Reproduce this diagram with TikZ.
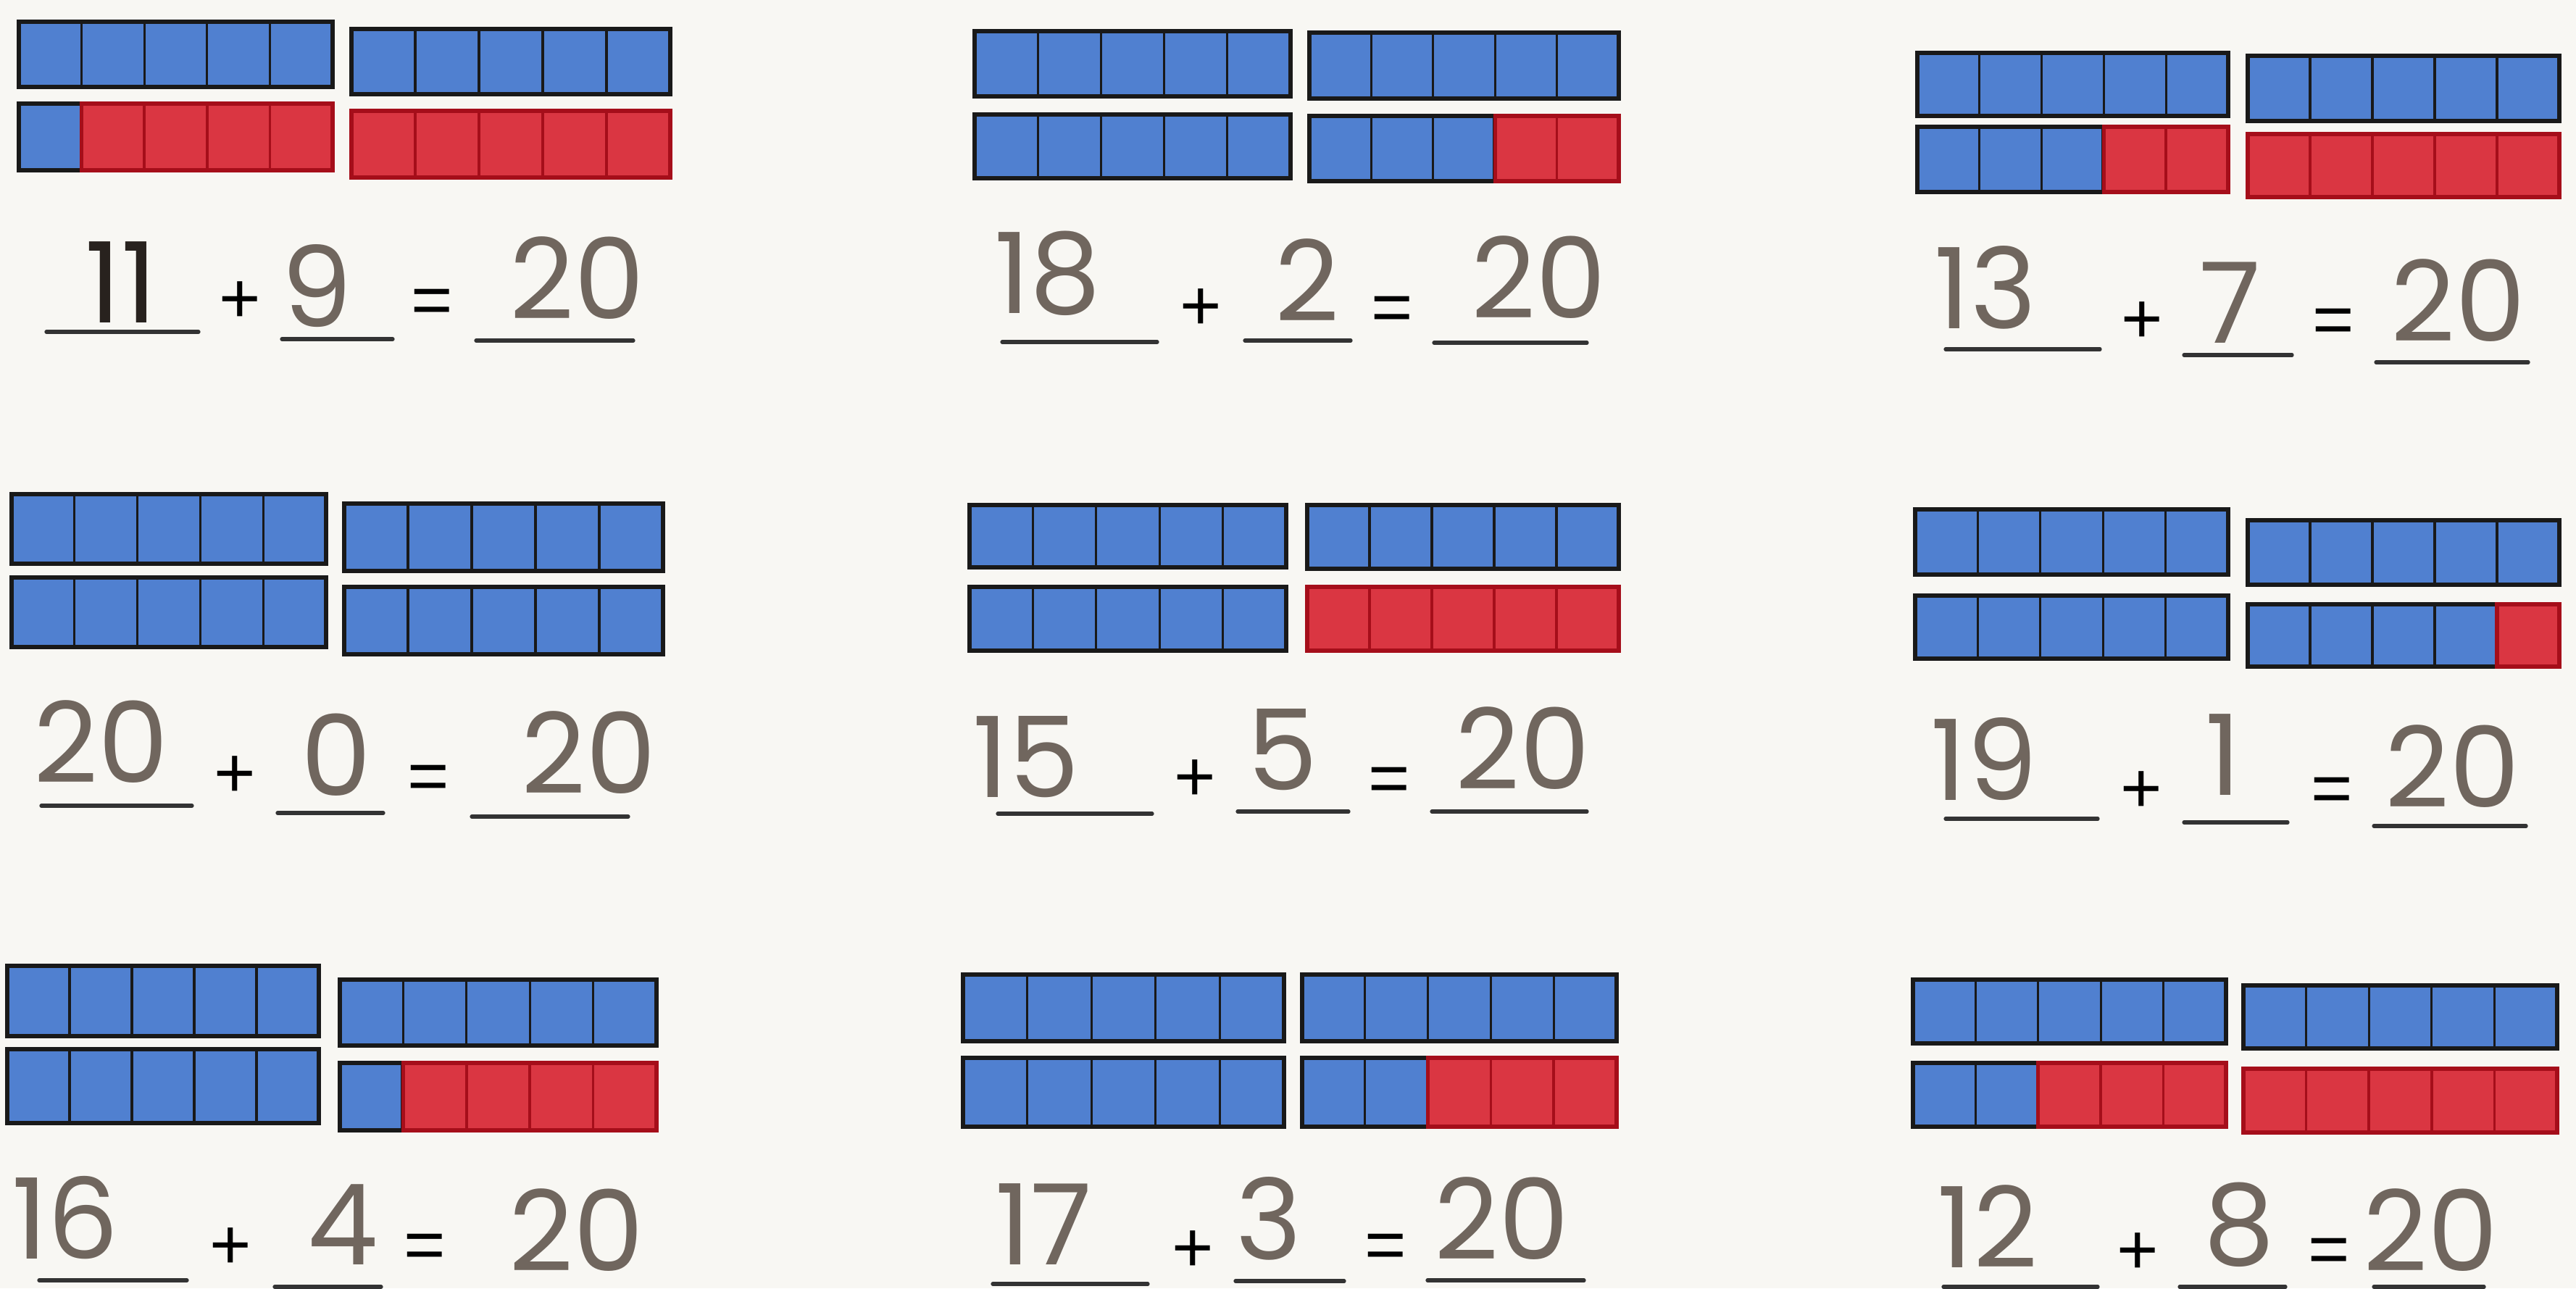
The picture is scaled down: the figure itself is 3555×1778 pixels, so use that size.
\documentclass[tikz,border=0pt]{standalone}
\usepackage{fontspec}
\setmainfont{Liberation Sans}
\newfontfamily\hand{Poppins}
\definecolor{cblue}{RGB}{80,128,208}
\definecolor{cred}{RGB}{218,54,66}
\definecolor{credline}{RGB}{165,14,26}
\definecolor{paper}{RGB}{248,247,243}
\definecolor{pencil}{RGB}{112,102,94}
\definecolor{ink}{RGB}{40,34,30}
\tikzset{
 blueCell/.style={fill=cblue, draw=black!90, line width=0.9pt},
 redCell/.style={fill=cred, draw=credline, line width=1pt},
 blueFrame/.style={draw=black!90, line width=1.7pt},
 redFrame/.style={draw=credline, line width=1.5pt},
 digits/.style={font=\hand\fontsize{44}{44}\selectfont, text=pencil, inner sep=0pt, anchor=center},
 opsign/.style={font=\fontsize{28}{28}\selectfont, text=black, inner sep=0pt, anchor=center},
 answerline/.style={draw=black!80, line width=1.5pt, line cap=round},
}
% #1 x left, #2 x right, #3 y top, #4 y bottom, #5 number of blue cells
\newcommand{\fivebar}[5]{%
  \foreach \i in {0,...,4}{%
    \ifnum\i<#5\relax
      \path[blueCell] ({#1+\i*(#2-#1)/5},#3) rectangle ({#1+(\i+1)*(#2-#1)/5},#4);
    \fi}%
  \ifnum#5>0\relax
    \path[blueFrame] (#1,#3) rectangle ({#1+#5*(#2-#1)/5},#4);
  \fi
  \foreach \i in {0,...,4}{%
    \ifnum\i<#5\relax\else
      \path[redCell] ({#1+\i*(#2-#1)/5},#3) rectangle ({#1+(\i+1)*(#2-#1)/5},#4);
    \fi}%
  \ifnum#5<5\relax
    \path[redFrame] ({#1+#5*(#2-#1)/5},#3) rectangle (#2,#4);
  \fi}
\begin{document}
\begin{tikzpicture}[x=0.01cm, y=-0.01cm]
\fill[paper] (0,0) rectangle (3555,1778);
\useasboundingbox (0,0) rectangle (3555,1778);

% ---------- Row 1 ----------
% Panel A: 11 + 9
\fivebar{26}{459}{30}{120}{5}
\fivebar{485}{925}{40}{130}{5}
\fivebar{26}{459}{143}{235}{1}
\fivebar{485}{925}{153}{245}{0}
\node[digits, text=ink] (a1) at (167,390) {11};
\node[opsign] (ap) at (331,417) {+};
\node[digits] (a2) at (437,395) {9};
\node[opsign] (ae) at (596,423) {=};
\node[digits] (a3) at (797,384) {20};
\draw[answerline] (64,458) -- (274,458);
\draw[answerline] (389,468) -- (542,468);
\draw[answerline] (657,470) -- (874,470);

% Panel B: 18 + 2
\fivebar{1345}{1781}{43}{133}{5}
\fivebar{1807}{2234}{45}{136}{5}
\fivebar{1345}{1781}{158}{246}{5}
\fivebar{1807}{2234}{160}{250}{3}
\node[digits] (b1) at (1446,377) {18};
\node[opsign] (bp) at (1657,427) {+};
\node[digits] (b2) at (1804,387) {2};
\node[opsign] (be) at (1921,433) {=};
\node[digits] (b3) at (2124,383) {20};
\draw[answerline] (1383,472) -- (1597,472);
\draw[answerline] (1718,470) -- (1864,470);
\draw[answerline] (1979,473) -- (2190,473);

% Panel C: 13 + 7
\fivebar{2646}{3075}{73}{160}{5}
\fivebar{3102}{3532}{77}{167}{5}
\fivebar{2646}{3075}{175}{265}{3}
\fivebar{3102}{3532}{185}{272}{0}
\node[digits] (c1) at (2740,397) {13};
\node[opsign] (cp) at (2956,445) {+};
\node[digits] (c2) at (3078,418) {7};
\node[opsign] (ce) at (3220,450) {=};
\node[digits] (c3) at (3393,415) {20};
\draw[answerline] (2685,482) -- (2898,482);
\draw[answerline] (3014,490) -- (3163,490);
\draw[answerline] (3279,500) -- (3489,500);

% ---------- Row 2 ----------
% Panel D: 20 + 0
\fivebar{16}{450}{682}{778}{5}
\fivebar{475}{915}{695}{788}{5}
\fivebar{16}{450}{797}{893}{5}
\fivebar{475}{915}{810}{903}{5}
\node[digits] (d1) at (140,1024) {20};
\node[opsign] (dp) at (324,1072) {+};
\node[digits] (d2) at (464,1042) {0};
\node[opsign] (de) at (591,1080) {=};
\node[digits] (d3) at (813,1039) {20};
\draw[answerline] (57,1112) -- (265,1112);
\draw[answerline] (383,1122) -- (529,1122);
\draw[answerline] (651,1127) -- (867,1127);

% Panel E: 15 + 5
\fivebar{1338}{1775}{697}{783}{5}
\fivebar{1804}{2234}{697}{785}{5}
\fivebar{1338}{1775}{810}{898}{5}
\fivebar{1804}{2234}{810}{898}{0}
\node[digits] (e1) at (1416,1045) {15};
\node[opsign] (ep) at (1649,1077) {+};
\node[digits] (e2) at (1770,1035) {5};
\node[opsign] (ee) at (1917,1083) {=};
\node[digits] (e3) at (2102,1033) {20};
\draw[answerline] (1377,1123) -- (1590,1123);
\draw[answerline] (1708,1120) -- (1861,1120);
\draw[answerline] (1976,1120) -- (2190,1120);

% Panel F: 19 + 1
\fivebar{2643}{3075}{703}{793}{5}
\fivebar{3102}{3532}{718}{807}{5}
\fivebar{2643}{3075}{822}{909}{5}
\fivebar{3102}{3532}{834}{920}{4}
\node[digits] (f1) at (2738,1048) {19};
\node[opsign] (fp) at (2955,1093) {+};
\node[digits] (f2) at (3068,1042) {1};
\node[opsign] (fe) at (3218,1097) {=};
\node[digits] (f3) at (3385,1058) {20};
\draw[answerline] (2685,1130) -- (2895,1130);
\draw[answerline] (3014,1135) -- (3157,1135);
\draw[answerline] (3276,1140) -- (3486,1140);

% ---------- Row 3 ----------
% Panel G: 16 + 4
\fivebar{10}{440}{1333}{1430}{5}
\fivebar{469}{906}{1352}{1443}{5}
\fivebar{10}{440}{1448}{1550}{5}
\fivebar{469}{906}{1467}{1560}{1}
\node[digits] (g1) at (90,1681) {16};
\node[opsign] (gp) at (318,1723) {+};
\node[digits] (g2) at (473,1690) {4};
\node[opsign] (ge) at (586,1727) {=};
\node[digits] (g3) at (796,1698) {20};
\draw[answerline] (54,1767) -- (258,1767);
\draw[answerline] (379,1776) -- (526,1776);

% Panel H: 17 + 3
\fivebar{1329}{1772}{1345}{1437}{5}
\fivebar{1797}{2231}{1345}{1437}{5}
\fivebar{1329}{1772}{1460}{1555}{5}
\fivebar{1797}{2231}{1460}{1555}{2}
\node[digits] (h1) at (1440,1690) {17};
\node[opsign] (hp) at (1646,1727) {+};
\node[digits] (h2) at (1751,1682) {3};
\node[opsign] (he) at (1912,1727) {=};
\node[digits] (h3) at (2073,1682) {20};
\draw[answerline] (1370,1772) -- (1584,1772);
\draw[answerline] (1705,1768) -- (1855,1768);
\draw[answerline] (1970,1767) -- (2186,1767);

% Panel I: 12 + 8
\fivebar{2640}{3072}{1352}{1440}{5}
\fivebar{3096}{3529}{1360}{1447}{5}
\fivebar{2640}{3072}{1467}{1555}{2}
\fivebar{3096}{3529}{1475}{1563}{0}
\node[digits] (i1) at (2743,1693) {12};
\node[opsign] (ip) at (2950,1730) {+};
\node[digits] (i2) at (3090,1690) {8};
\node[opsign] (ie) at (3214,1733) {=};
\node[digits] (i3) at (3355,1698) {20};
\draw[answerline] (2682,1776) -- (2895,1776);
\draw[answerline] (3008,1776) -- (3154,1776);
\draw[answerline] (3276,1776) -- (3428,1776);
\end{tikzpicture}
\end{document}
